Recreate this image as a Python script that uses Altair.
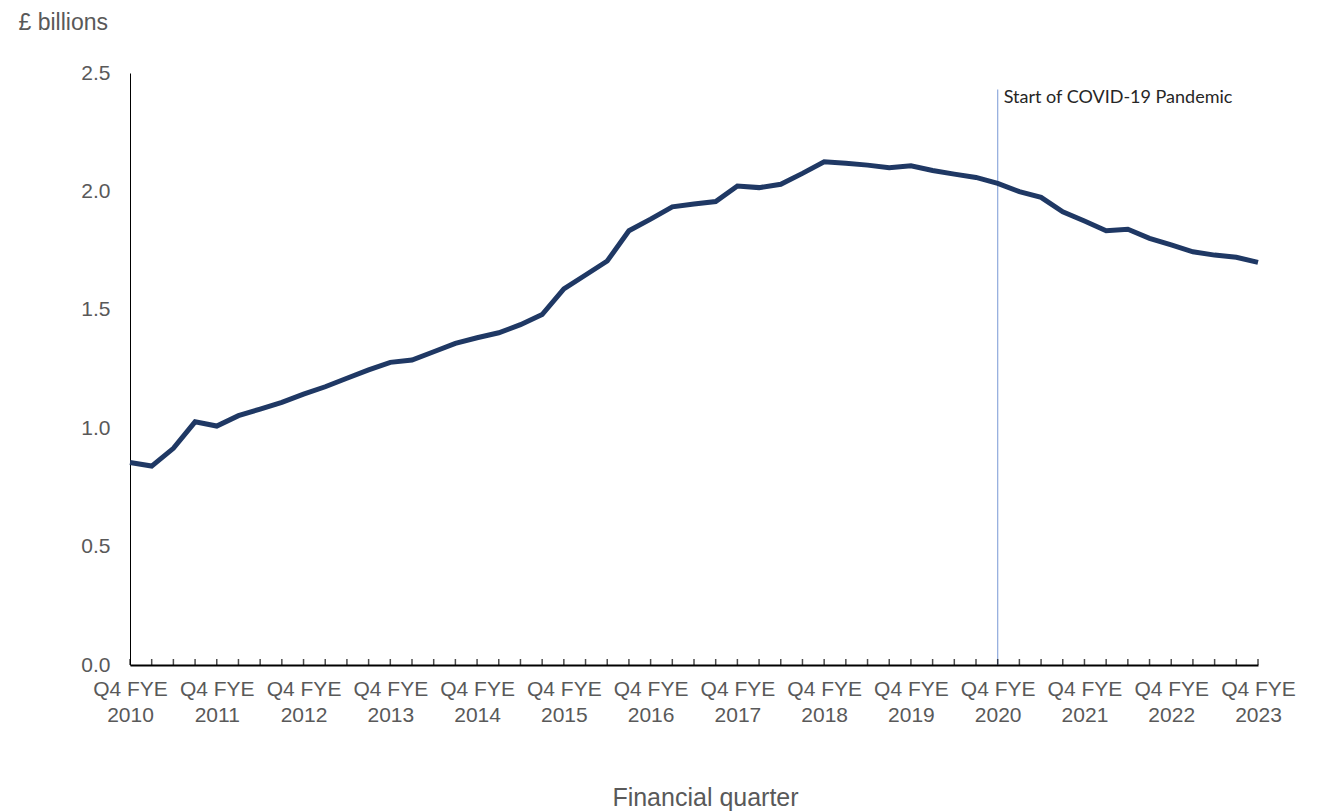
import altair as alt
import pandas as pd

# Financial quarters, Q4 FYE 2010 .. Q4 FYE 2023 (index 0..52)
quarter_index = list(range(53))
values = [
    0.855, 0.840, 0.915, 1.027, 1.009, 1.053, 1.081, 1.109, 1.144, 1.175,
    1.211, 1.246, 1.278, 1.288, 1.323, 1.358, 1.382, 1.403, 1.437, 1.480,
    1.588, 1.647, 1.706, 1.834, 1.883, 1.935, 1.947, 1.957, 2.023, 2.016,
    2.030, 2.076, 2.125, 2.119, 2.111, 2.100, 2.108, 2.088, 2.073, 2.059,
    2.034, 1.999, 1.975, 1.914, 1.875, 1.834, 1.840, 1.802, 1.774, 1.745,
    1.731, 1.722, 1.700,
]
label_positions = list(range(0, 53, 4))
covid_index = [40]
covid_text = ["Start of COVID-19 Pandemic"]

df = pd.DataFrame({"q": quarter_index, "value": values})
ticks_df = pd.DataFrame({"q": quarter_index})
covid_df = pd.DataFrame({"q": covid_index, "text": covid_text})

FONT = "Liberation Sans"
LABEL_COLOR = "#595959"

x_scale = alt.Scale(domain=[0, 52], nice=False, zero=False, padding=0)
y_scale = alt.Scale(domain=[0, 2.5], nice=False)

x_axis = alt.Axis(
    values=label_positions,
    ticks=False,
    grid=False,
    labelExpr="datum.value % 4 == 0 ? ['Q4 FYE', '' + (2010 + datum.value / 4)] : ''",
    labelFont=FONT,
    labelFontSize=21,
    labelColor=LABEL_COLOR,
    labelPadding=13,
    labelLineHeight=26,
    labelOverlap=False,
    labelFlush=False,
    domainColor="#000000",
    domainWidth=2,
    title="Financial quarter",
    titleFont=FONT,
    titleFontSize=25,
    titleFontWeight="normal",
    titleColor=LABEL_COLOR,
    titleX=575,
    titleY=140,
    titleBaseline="alphabetic",
    titleAnchor="start",
    titleAlign="center",
)

y_axis = alt.Axis(
    values=[0, 0.5, 1.0, 1.5, 2.0, 2.5],
    format=".1f",
    ticks=False,
    grid=False,
    labelFont=FONT,
    labelFontSize=21,
    labelColor=LABEL_COLOR,
    labelPadding=20,
    domainColor="#000000",
    domainWidth=1,
    title="£ billions",
    titleFont=FONT,
    titleFontSize=23,
    titleFontWeight="normal",
    titleColor=LABEL_COLOR,
    titleAngle=0,
    titleAlign="left",
    titleBaseline="alphabetic",
    titleX=-112,
    titleY=-44,
)

X = alt.X("q:Q", scale=x_scale, axis=x_axis)

covid_rule = alt.Chart(covid_df).mark_rule(color="#8FAADC", strokeWidth=1.2).encode(
    x=X,
    y=alt.datum(2.43, scale=y_scale, axis=y_axis),
    y2=alt.datum(0),
)

line = alt.Chart(df).mark_line(color="#1F3864", strokeWidth=5, strokeJoin="miter").encode(
    x=X,
    y=alt.Y("value:Q", scale=y_scale, axis=y_axis),
)

ticks = alt.Chart(ticks_df).mark_tick(
    orient="vertical", size=6, thickness=1.5, color="#000000", yOffset=-3
).encode(
    x=X,
    y=alt.datum(0, scale=y_scale, axis=y_axis),
)

covid_label = alt.Chart(covid_df).mark_text(
    align="left", baseline="middle", dx=6, font="Lato", fontSize=18, color="#262626"
).encode(
    x=X,
    y=alt.datum(2.395, scale=y_scale, axis=y_axis),
    text="text:N",
)

chart = (
    alt.layer(covid_rule, line, ticks, covid_label)
    .properties(
        width=1128,
        height=592,
        autosize=alt.AutoSizeParams(type="none"),
        padding={"left": 122, "top": 65, "right": 50, "bottom": 146},
        view=alt.ViewBackground(stroke="transparent", strokeWidth=0),
    )
    .configure_view(stroke="transparent", strokeWidth=0)
    .configure_axis(grid=False)
    .configure(background="#ffffff")
)

chart.save("out.html", embed_options={"renderer": "svg", "actions": False})
